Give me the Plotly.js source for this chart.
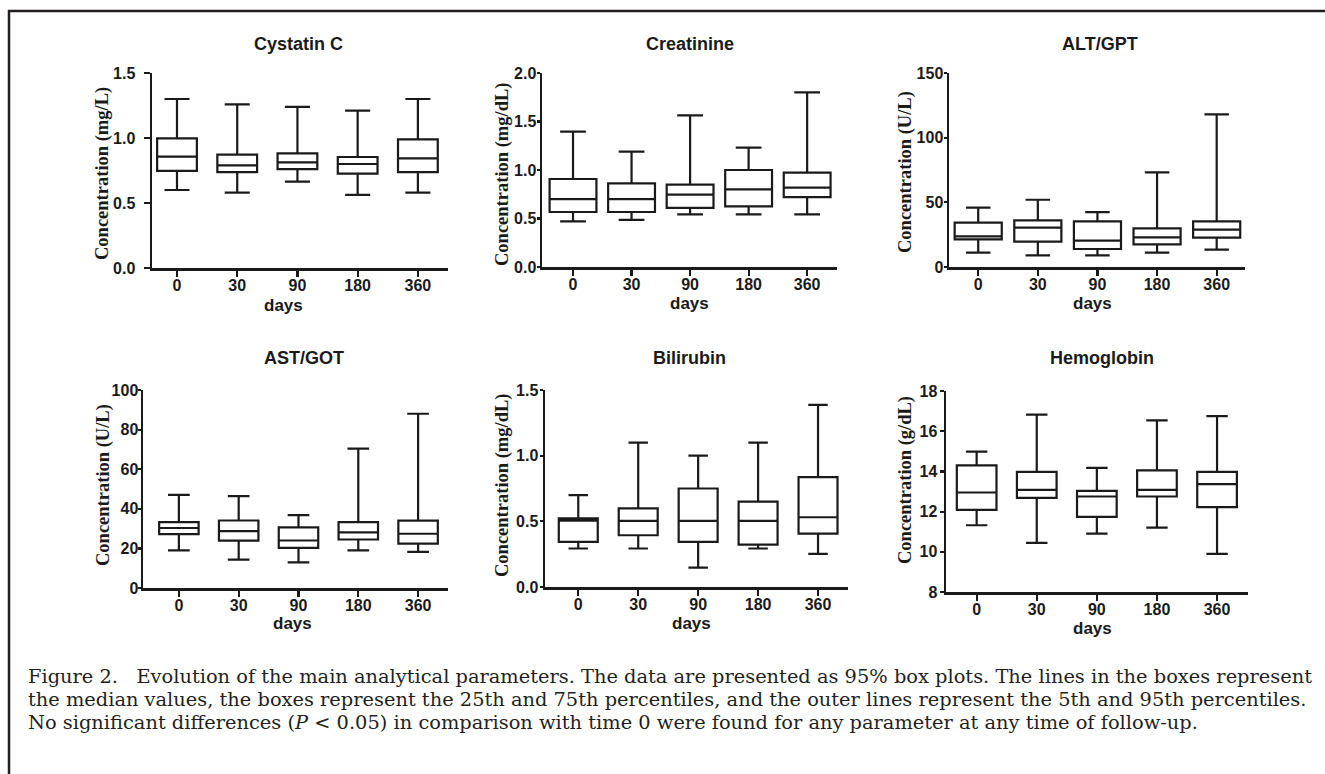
<!DOCTYPE html>
<html>
<head>
<meta charset="utf-8">
<script src="https://cdn.plot.ly/plotly-3.0.1.min.js"></script>
<style>
html,body{margin:0;padding:0;background:#fff;}
#chart{width:1325px;height:774px;}
</style>
</head>
<body>
<div id="chart"></div>
<script>
// ---------- DATA ----------
var days = ["0", "30", "90", "180", "360"];

var panelTitles = ["Cystatin C", "Creatinine", "ALT/GPT", "AST/GOT", "Bilirubin", "Hemoglobin"];
var yTitles = ["Concentration (mg/L)", "Concentration (mg/dL)", "Concentration (U/L)",
               "Concentration (U/L)", "Concentration (mg/dL)", "Concentration (g/dL)"];
var xTitle = "days";

// Cystatin C (mg/L)
var cysLow = [0.60, 0.58, 0.665, 0.563, 0.58];
var cysQ1  = [0.747, 0.737, 0.76, 0.726, 0.737];
var cysMed = [0.857, 0.79, 0.813, 0.80, 0.844];
var cysQ3  = [0.997, 0.872, 0.882, 0.854, 0.99];
var cysUp  = [1.30, 1.258, 1.24, 1.21, 1.30];

// Creatinine (mg/dL)
var creLow = [0.47, 0.485, 0.543, 0.543, 0.543];
var creQ1  = [0.567, 0.567, 0.61, 0.625, 0.72];
var creMed = [0.70, 0.70, 0.746, 0.80, 0.818];
var creQ3  = [0.907, 0.862, 0.85, 1.0, 0.972];
var creUp  = [1.395, 1.19, 1.564, 1.23, 1.80];

// ALT/GPT (U/L)
var altLow = [11.1, 9.0, 9.0, 11.1, 13.4];
var altQ1  = [21.4, 19.6, 13.9, 17.5, 22.7];
var altMed = [23.7, 30.4, 20.4, 22.9, 28.9];
var altQ3  = [34.3, 36.0, 35.3, 29.9, 35.3];
var altUp  = [45.9, 52.0, 42.5, 73.2, 118.0];

// AST/GOT (U/L)
var astLow = [19.0, 14.3, 12.9, 19.0, 18.2];
var astQ1  = [27.2, 23.9, 20.3, 24.5, 22.4];
var astMed = [30.3, 28.7, 24.0, 28.1, 27.4];
var astQ3  = [33.3, 34.1, 30.6, 33.3, 34.0];
var astUp  = [47.0, 46.4, 36.8, 70.4, 88.0];

// Bilirubin (mg/dL)
var bilLow = [0.293, 0.293, 0.147, 0.293, 0.252];
var bilQ1  = [0.343, 0.394, 0.343, 0.323, 0.407];
var bilMed = [0.506, 0.503, 0.503, 0.503, 0.531];
var bilQ3  = [0.522, 0.598, 0.75, 0.65, 0.837];
var bilUp  = [0.70, 1.10, 1.0, 1.10, 1.386];

// Hemoglobin (g/dL)
var hemLow = [11.32, 10.44, 10.9, 11.2, 9.9];
var hemQ1  = [12.09, 12.68, 11.74, 12.75, 12.22];
var hemMed = [12.95, 13.08, 12.75, 13.08, 13.37];
var hemQ3  = [14.3, 13.98, 13.03, 14.05, 13.98];
var hemUp  = [14.98, 16.82, 14.18, 16.54, 16.75];

// Tick values
var cysTicks = [0, 0.5, 1.0, 1.5];
var creTicks = [0, 0.5, 1.0, 1.5, 2.0];
var altTicks = [0, 50, 100, 150];
var astTicks = [0, 20, 40, 60, 80, 100];
var bilTicks = [0, 0.5, 1.0, 1.5];
var hemTicks = [8, 10, 12, 14, 16, 18];

var captionLines = [
  "Figure 2.\u00a0\u00a0\u00a0Evolution of the main analytical parameters. The data are presented as 95% box plots. The lines in the boxes represent",
  "the median values, the boxes represent the 25th and 75th percentiles, and the outer lines represent the 5th and 95th percentiles.",
  "No significant differences (<i>P</i> &lt; 0.05) in comparison with time 0 were found for any parameter at any time of follow-up."
];

// ---------- LAYOUT GEOMETRY (pixels) ----------
var W = 1325, H = 774;
function px(x){ return x / W; }
function py(y){ return 1 - y / H; }
var ink = "#1a1a1a";

var stats = [
  [cysLow, cysQ1, cysMed, cysQ3, cysUp],
  [creLow, creQ1, creMed, creQ3, creUp],
  [altLow, altQ1, altMed, altQ3, altUp],
  [astLow, astQ1, astMed, astQ3, astUp],
  [bilLow, bilQ1, bilMed, bilQ3, bilUp],
  [hemLow, hemQ1, hemMed, hemQ3, hemUp]
];
var ticks = [cysTicks, creTicks, altTicks, astTicks, bilTicks, hemTicks];
var tickFmt = [".1f", ".1f", "d", "d", ".1f", "d"];

// geometry: plot area (px), x range, box/whisker widths, y tick length & label standoff, text anchors
var geo = [
  {l:152, r:448, t:73, b:268, lo:-0.415, hi:4.5, bw:0.66, ww:0.63, ytl:6, yso:5, tx:298, ty:44, yx:103, yy:174, dx:283, dy:305},
  {l:542, r:837, t:73, b:267, lo:-0.53, hi:4.51, bw:0.80, ww:0.55, ytl:3, yso:-3, tx:690, ty:44, yx:502, yy:175, dx:689, dy:304},
  {l:949, r:1245, t:73, b:267, lo:-0.49, hi:4.475, bw:0.79, ww:0.52, ytl:3, yso:-3, tx:1100, ty:44, yx:905, yy:172, dx:1092, dy:304},
  {l:143, r:448, t:390, b:588, lo:-0.6, hi:4.5, bw:0.66, ww:0.55, ytl:3, yso:-4, tx:304, ty:358, yx:103, yy:485, dx:292, dy:623},
  {l:545, r:848, t:390, b:587, lo:-0.555, hi:4.5, bw:0.65, ww:0.5, ytl:3, yso:-2, tx:689, ty:358, yx:502, yy:486, dx:692, dy:623},
  {l:946, r:1248, t:391, b:592, lo:-0.51, hi:4.515, bw:0.66, ww:0.54, ytl:4, yso:-1, tx:1102, ty:358, yx:905, yy:480, dx:1092, dy:628}
];

var data = [];
var layout = {
  width: W, height: H,
  margin: {l:0, r:0, t:0, b:0},
  paper_bgcolor: "#fff", plot_bgcolor: "rgba(0,0,0,0)",
  showlegend: false,
  annotations: [],
  shapes: []
};

var tickFont = {family: "Liberation Sans, Arial, sans-serif", size: 16, color: ink, weight: "bold"};

geo.forEach(function(g, i){
  var n = i + 1;
  var xa = "x" + (n === 1 ? "" : n), ya = "y" + (n === 1 ? "" : n);
  var s = stats[i];
  data.push({
    type: "box",
    x: days,
    lowerfence: s[0], q1: s[1], median: s[2], q3: s[3], upperfence: s[4],
    xaxis: xa, yaxis: ya,
    fillcolor: "#ffffff",
    line: {color: ink, width: 2.2},
    width: g.bw,
    whiskerwidth: g.ww,
    boxpoints: false,
    hoverinfo: "skip"
  });
  var tv = ticks[i];
  layout["xaxis" + (n === 1 ? "" : n)] = {
    domain: [px(g.l), px(g.r)],
    anchor: ya,
    type: "category",
    categoryorder: "array", categoryarray: days,
    range: [g.lo, g.hi],
    showline: true, linecolor: ink, linewidth: 2.5,
    ticks: "outside", ticklen: 6, tickwidth: 2.2, tickcolor: ink,
    tickfont: tickFont,
    ticklabelstandoff: -5,
    showgrid: false, zeroline: false, fixedrange: true
  };
  layout["yaxis" + (n === 1 ? "" : n)] = {
    domain: [py(g.b), py(g.t)],
    anchor: xa,
    range: [tv[0], tv[tv.length - 1]],
    tickvals: tv,
    tickformat: tickFmt[i],
    showline: true, linecolor: ink, linewidth: 2.5,
    ticks: "outside", ticklen: g.ytl, tickwidth: 2.2, tickcolor: ink,
    tickfont: tickFont,
    ticklabelstandoff: g.yso,
    showgrid: false, zeroline: false, fixedrange: true
  };
  layout.annotations.push({
    xref: "paper", yref: "paper", x: px(g.tx), y: py(g.ty),
    text: panelTitles[i], showarrow: false, xanchor: "center", yanchor: "middle",
    font: {family: "Liberation Sans, Arial, sans-serif", size: 18, color: ink, weight: "bold"}
  });
  layout.annotations.push({
    xref: "paper", yref: "paper", x: px(g.yx), y: py(g.yy),
    text: yTitles[i], showarrow: false, textangle: -90, xanchor: "center", yanchor: "middle",
    font: {family: "Liberation Serif, Times New Roman, serif", size: 18.5, color: ink, weight: "bold"}
  });
  layout.annotations.push({
    xref: "paper", yref: "paper", x: px(g.dx), y: py(g.dy),
    text: xTitle, showarrow: false, xanchor: "center", yanchor: "middle",
    font: {family: "Liberation Sans, Arial, sans-serif", size: 17, color: ink, weight: "bold"}
  });
});

// caption
var capY = [676, 699, 722];
captionLines.forEach(function(t, i){
  layout.annotations.push({
    xref: "paper", yref: "paper", x: px(26), y: py(capY[i]),
    text: t, showarrow: false, xanchor: "left", yanchor: "middle", align: "left",
    font: {family: "DejaVu Serif, serif", size: 19.4, color: "#231f20"}
  });
});

// frame (top and left border of the figure box)
layout.shapes.push({type: "line", xref: "paper", yref: "paper",
  x0: px(8), x1: 1, y0: py(11), y1: py(11), line: {color: "#231f20", width: 2.5}});
layout.shapes.push({type: "line", xref: "paper", yref: "paper",
  x0: px(9), x1: px(9), y0: py(10), y1: 0, line: {color: "#231f20", width: 2.5}});

Plotly.newPlot("chart", data, layout, {displayModeBar: false, staticPlot: true});
</script>
</body>
</html>
